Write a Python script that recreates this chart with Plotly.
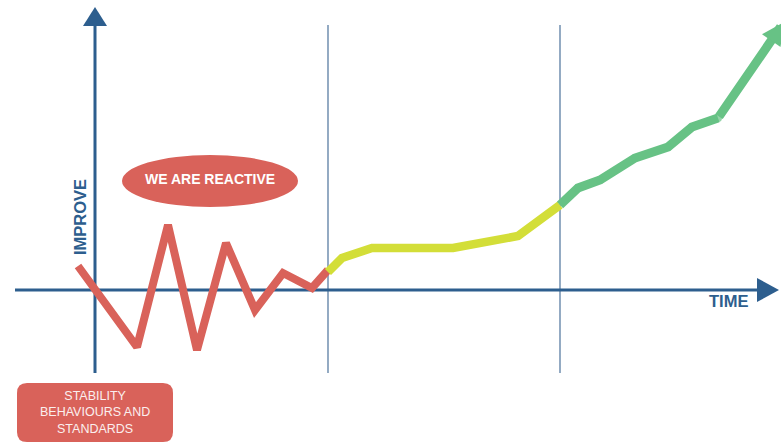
import plotly.graph_objects as go

# Timeline position (horizontal units) and improvement level (0 = baseline)
reactive_t = [78, 137, 168, 197, 226, 255, 283, 312, 328]
reactive_v = [24, -57, 65, -60, 47, -20, 17, 2, 20]

stable_t = [328, 342, 372, 453, 518, 560]
stable_v = [18, 32, 42, 42, 54, 85]

improve_t = [560, 578, 600, 635, 668, 692, 718, 784]
improve_v = [85, 102, 110, 132, 143, 163, 172, 268]

phase_bounds = [328, 560]

axis_label_x = "TIME"
axis_label_y = "IMPROVE"
bubble_text = "WE ARE REACTIVE"
box_text = "STABILITY<br>BEHAVIOURS AND<br>STANDARDS"

AXIS = "#2d5e8e"
DIVIDER = "#5a7da3"
RED = "#d9625a"
YELLOW = "#d3de38"
GREEN = "#67c285"
FONT = "Liberation Sans, Arial, sans-serif"

fig = go.Figure()

# Phase separators
shapes = []
for bx in phase_bounds:
    shapes.append(dict(type="line", x0=bx, x1=bx, y0=-83, y1=265,
                       line=dict(color=DIVIDER, width=1.3), layer="below"))

# Axes with arrowheads
shapes += [
    dict(type="line", x0=15, x1=760, y0=0, y1=0, line=dict(color=AXIS, width=3), layer="below"),
    dict(type="path", path="M 757 12 L 779 0 L 757 -12 Z", fillcolor=AXIS, line=dict(width=0)),
    dict(type="line", x0=95, x1=95, y0=-83, y1=265, line=dict(color=AXIS, width=3), layer="below"),
    dict(type="path", path="M 83 264 L 95 283 L 107 264 Z", fillcolor=AXIS, line=dict(width=0)),
]

# Callout bubble and box
shapes.append(dict(type="circle", x0=122, x1=298, y0=83, y1=135,
                   fillcolor=RED, line=dict(width=0)))
r = 10
bx0, bx1, by0, by1 = 17, 173, -152, -93
shapes.append(dict(
    type="path",
    path=(f"M {bx0 + r} {by1} L {bx1 - r} {by1} Q {bx1} {by1} {bx1} {by1 - r} "
          f"L {bx1} {by0 + r} Q {bx1} {by0} {bx1 - r} {by0} "
          f"L {bx0 + r} {by0} Q {bx0} {by0} {bx0} {by0 + r} "
          f"L {bx0} {by1 - r} Q {bx0} {by1} {bx0 + r} {by1} Z"),
    fillcolor=RED, line=dict(width=0)))

fig.add_trace(go.Scatter(x=reactive_t, y=reactive_v, mode="lines",
                         line=dict(color=RED, width=8), hoverinfo="skip"))
fig.add_trace(go.Scatter(x=stable_t, y=stable_v, mode="lines",
                         line=dict(color=YELLOW, width=8.5), hoverinfo="skip"))
# Round markers at the inner vertices smooth the joints of the thick green line
joint_sizes = [0] + [8] * (len(improve_t) - 2)
fig.add_trace(go.Scatter(x=improve_t[:-1], y=improve_v[:-1], mode="lines+markers",
                         line=dict(color=GREEN, width=9),
                         marker=dict(color=GREEN, size=joint_sizes, line=dict(width=0)),
                         hoverinfo="skip"))

annotations = [
    # Final rising segment drawn as an arrow
    dict(x=improve_t[-1], y=improve_v[-1], ax=improve_t[-2], ay=improve_v[-2],
         xref="x", yref="y", axref="x", ayref="y", text="", showarrow=True,
         arrowhead=2, arrowsize=0.5, arrowwidth=9, arrowcolor=GREEN),
    dict(x=210, y=111, text=f"<b>{bubble_text}</b>", showarrow=False,
         font=dict(family=FONT, size=14, color="white")),
    dict(x=95, y=-122, text=box_text, showarrow=False,
         font=dict(family=FONT, size=12.5, color="#fbefee")),
    dict(x=80, y=73, text=f"<b>{axis_label_y}</b>", showarrow=False, textangle=-90,
         font=dict(family=FONT, size=16.5, color=AXIS)),
    dict(x=728, y=-11, text=f"<b>{axis_label_x}</b>", showarrow=False,
         font=dict(family=FONT, size=16.5, color=AXIS)),
]

fig.update_layout(
    width=781, height=448,
    margin=dict(l=0, r=0, t=0, b=0),
    paper_bgcolor="white", plot_bgcolor="white",
    showlegend=False,
    shapes=shapes,
    annotations=annotations,
    xaxis=dict(range=[0, 781], visible=False, fixedrange=True),
    yaxis=dict(range=[-158, 290], visible=False, fixedrange=True),
)

fig.write_html("out.html")
